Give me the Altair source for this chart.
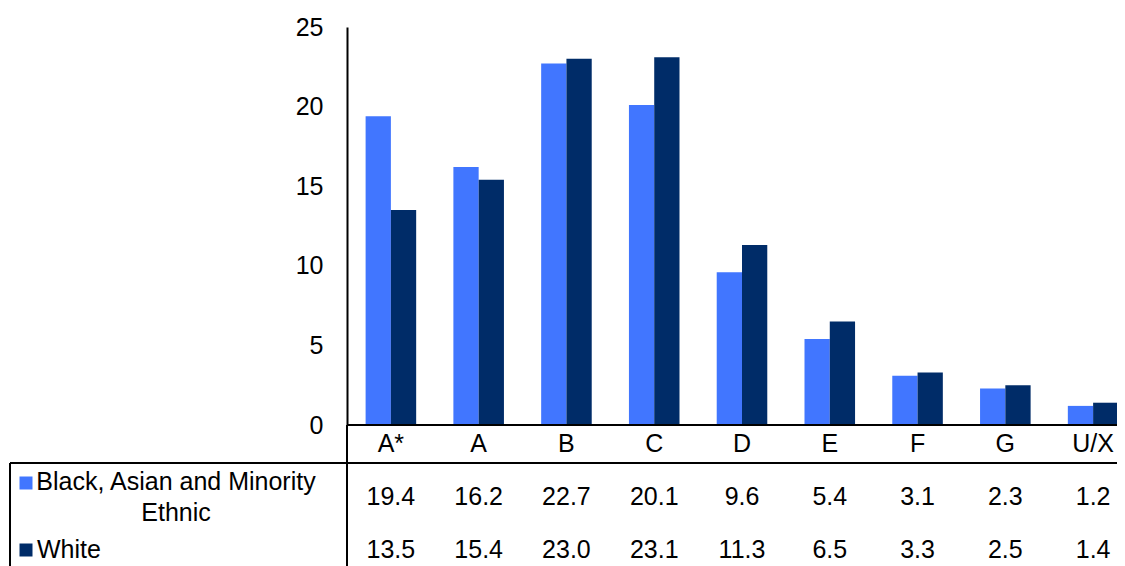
import altair as alt
import pandas as pd

grades = ["A*", "A", "B", "C", "D", "E", "F", "G", "U/X"]
series = ["Black, Asian and Minority Ethnic", "White"]
bame = [19.4, 16.2, 22.7, 20.1, 9.6, 5.4, 3.1, 2.3, 1.2]
white = [13.5, 15.4, 23.0, 23.1, 11.3, 6.5, 3.3, 2.5, 1.4]
y_ticks = [0, 5, 10, 15, 20, 25]
colors = ["#4176FF", "#002C68"]
legend_labels = ["Black, Asian and Minority\nEthnic", "White"]

W, H = 770, 539
FONT = "Liberation Sans"
FS = 25

# long data for bars
bar_rows = []
for g, b, w in zip(grades, bame, white):
    bar_rows.append({"grade": g, "series": series[0], "value": b})
    bar_rows.append({"grade": g, "series": series[1], "value": w})
df = pd.DataFrame(bar_rows)

# table text data
row_names = ["grade", series[0], series[1]]
tab_rows = []
for g, b, w in zip(grades, bame, white):
    tab_rows.append({"grade": g, "row": "grade", "txt": g})
    tab_rows.append({"grade": g, "row": series[0], "txt": f"{b:.1f}"})
    tab_rows.append({"grade": g, "row": series[1], "txt": f"{w:.1f}"})
tdf = pd.DataFrame(tab_rows)

ldf = pd.DataFrame({"series": series, "row": series, "label": legend_labels})
one = pd.DataFrame({"k": [0]})
zero = pd.DataFrame({"v": [0]})

xscale = alt.Scale(domain=grades, range=[0, 790], paddingInner=0.424, paddingOuter=0.212)
yscale = alt.Scale(domain=[0, 25], range=[398, 0], nice=False, zero=True)
rowscale = alt.Scale(type="point", domain=row_names, range=[417, 523], padding=0)
cscale = alt.Scale(domain=series, range=colors)

bars = alt.Chart(df).mark_bar().encode(
    x=alt.X("grade:N", scale=xscale, axis=None, title=None),
    xOffset=alt.XOffset("series:N", sort=series,
                        scale=alt.Scale(domain=series, paddingInner=0, paddingOuter=0)),
    y=alt.Y("value:Q", scale=yscale,
            axis=alt.Axis(values=y_ticks, ticks=False, grid=False, domain=True,
                          domainColor="black", domainWidth=2, labelPadding=24,
                          labelFont=FONT, labelFontSize=FS, labelColor="black",
                          title=None)),
    color=alt.Color("series:N", scale=cscale, legend=None),
)

zero_rule = alt.Chart(zero).mark_rule(color="black", strokeWidth=2).encode(
    y=alt.Y("v:Q", scale=yscale, axis=None),
    x=alt.value(0), x2=alt.value(W),
)

table_text = alt.Chart(tdf).mark_text(
    font=FONT, fontSize=FS, color="black", align="center", baseline="middle"
).encode(
    x=alt.X("grade:N", scale=xscale, axis=None),
    y=alt.Y("row:N", scale=rowscale, axis=None),
    text="txt:N",
)

leg_bame = alt.Chart(ldf[ldf["series"] == series[0]]).mark_text(
    font=FONT, fontSize=FS, color="black", align="center", baseline="middle",
    lineBreak="\n", lineHeight=31, dy=-15
).encode(
    x=alt.value(-171),
    y=alt.Y("row:N", scale=rowscale, axis=None),
    text="label:N",
)

leg_white = alt.Chart(ldf[ldf["series"] == series[1]]).mark_text(
    font=FONT, fontSize=FS, color="black", align="left", baseline="middle"
).encode(
    x=alt.value(-310),
    y=alt.Y("row:N", scale=rowscale, axis=None),
    text="label:N",
)

sq_bame = alt.Chart(ldf[ldf["series"] == series[0]]).mark_square(
    size=169, opacity=1, yOffset=-14
).encode(
    x=alt.value(-321),
    y=alt.Y("row:N", scale=rowscale, axis=None),
    color=alt.Color("series:N", scale=cscale, legend=None),
)

sq_white = alt.Chart(ldf[ldf["series"] == series[1]]).mark_square(
    size=169, opacity=1
).encode(
    x=alt.value(-321),
    y=alt.Y("row:N", scale=rowscale, axis=None),
    color=alt.Color("series:N", scale=cscale, legend=None),
)

line_under_labels = alt.Chart(one).mark_rule(color="black", strokeWidth=2).encode(
    x=alt.value(-337), x2=alt.value(W), y=alt.value(436)
)
box_left = alt.Chart(one).mark_rule(color="black", strokeWidth=2).encode(
    x=alt.value(-337), y=alt.value(436), y2=alt.value(H)
)
axis_ext = alt.Chart(one).mark_rule(color="black", strokeWidth=2).encode(
    x=alt.value(0), y=alt.value(398), y2=alt.value(H)
)

chart = alt.layer(
    bars, zero_rule, table_text, leg_bame, leg_white, sq_bame, sq_white,
    line_under_labels, box_left, axis_ext
).resolve_scale(y="independent").properties(
    width=W, height=H,
    autosize=alt.AutoSizeParams(type="none"),
    padding={"left": 339, "top": 19, "right": 0, "bottom": 0},
    background="white",
).configure_view(stroke=None)

chart.save("out.html", embed_options={"renderer": "svg", "actions": False})
